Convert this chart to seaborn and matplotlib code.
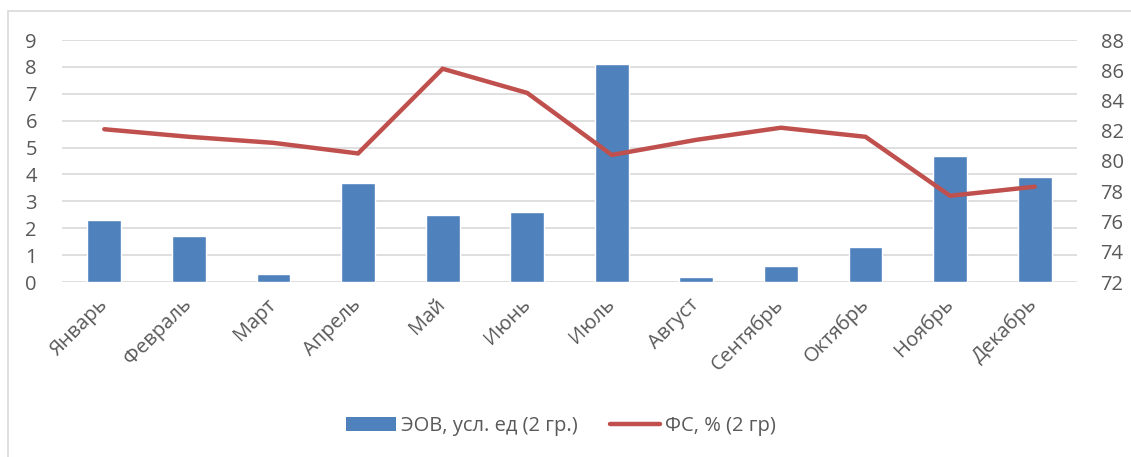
import numpy as np
import pandas as pd
import matplotlib
matplotlib.use("Agg")
import matplotlib.pyplot as plt
from matplotlib.patches import Rectangle
from matplotlib.lines import Line2D
import seaborn as sns

# Monthly data for group 2
months = ["Январь", "Февраль", "Март", "Апрель", "Май", "Июнь",
          "Июль", "Август", "Сентябрь", "Октябрь", "Ноябрь", "Декабрь"]
eov_values = [2.3, 1.7, 0.3, 3.7, 2.5, 2.6, 8.1, 0.2, 0.6, 1.3, 4.7, 3.9]
fs_values = [82.1, 81.6, 81.2, 80.5, 86.1, 84.5, 80.4, 81.4, 82.2, 81.6, 77.7, 78.3]
left_ticks = list(range(0, 10))
right_ticks = list(range(72, 89, 2))

bar_label = "ЭОВ, усл. ед (2 гр.)"
line_label = "ФС, % (2 гр)"

BAR_COLOR = "#4F81BD"
LINE_COLOR = "#C0504D"
GRID_COLOR = "#D9D9D9"
TEXT_COLOR = "#595959"
FS = 14.5

sns.set_theme(style="white")
plt.rcParams["font.family"] = ["Open Sans", "DejaVu Sans"]

df = pd.DataFrame({"month": months, "eov": eov_values, "fs": fs_values,
                   "pos": np.arange(len(months))})

fig = plt.figure(figsize=(11.31, 4.57), dpi=100)
ax = fig.add_axes([62 / 1131, 1 - 282 / 457, (1077 - 62) / 1131, (282 - 40) / 457])

sns.barplot(data=df, x="month", y="eov", color=BAR_COLOR, width=0.4,
            saturation=1, ax=ax, zorder=3)
ax.set_ylim(0, 9)
ax.set_yticks(left_ticks)
ax.set_xlim(-0.5, len(months) - 0.5)
ax.yaxis.grid(True, color=GRID_COLOR, linewidth=1.2, zorder=0)
ax.set_axisbelow(True)
for s in ax.spines.values():
    s.set_visible(False)
ax.set_xlabel("")
ax.set_ylabel("")
ax.tick_params(axis="y", length=0, pad=18, labelsize=FS, labelcolor=TEXT_COLOR)
ax.tick_params(axis="x", length=0, pad=14, labelsize=FS, labelcolor=TEXT_COLOR)
for lbl in ax.get_xticklabels():
    lbl.set_rotation(45)
    lbl.set_ha("right")
    lbl.set_va("center")
    lbl.set_rotation_mode("anchor")

ax2 = ax.twinx()
sns.lineplot(data=df, x="pos", y="fs", color=LINE_COLOR, linewidth=3.2,
             ax=ax2, zorder=4, solid_capstyle="round", solid_joinstyle="miter")
ax2.set_ylim(72, 88)
ax2.set_yticks(right_ticks)
ax2.set_xlim(-0.5, len(months) - 0.5)
for s in ax2.spines.values():
    s.set_visible(False)
ax2.set_ylabel("")
ax2.set_xlabel("")
ax2.tick_params(axis="y", length=0, pad=17, labelsize=FS, labelcolor=TEXT_COLOR)
ax2.grid(False)

handles = [Rectangle((0, 0), 1, 1, facecolor=BAR_COLOR, edgecolor="none"),
           Line2D([0], [0], color=LINE_COLOR, linewidth=3.2, solid_capstyle="round")]
fig.legend(handles, [bar_label, line_label], loc="center",
           bbox_to_anchor=(561 / 1131, 1 - 426 / 457), ncol=2, frameon=False,
           fontsize=FS, labelcolor=TEXT_COLOR, handlelength=2.5,
           handletextpad=0.25, columnspacing=1.6, handleheight=0.75)

# Chart frame
fig.patches.append(Rectangle((8 / 1131, -0.1), 1.2, 1 - 11 / 457 + 0.1,
                             transform=fig.transFigure, fill=False,
                             edgecolor=GRID_COLOR, linewidth=1.2, zorder=0))

fig.savefig("out.png", dpi=100, facecolor="white")
